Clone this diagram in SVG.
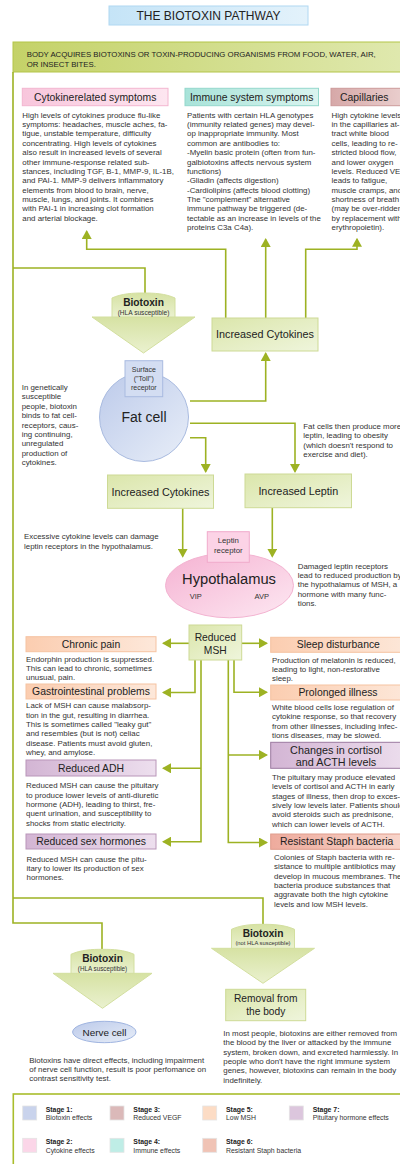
<svg xmlns="http://www.w3.org/2000/svg" width="400" height="1164" viewBox="0 0 400 1164">
<style>
text{font-family:"Liberation Sans",Arial,sans-serif;fill:#333}
.b{font-size:7.9px}
.h{font-size:10.4px;fill:#222;text-anchor:middle}
.c{text-anchor:middle}
.conn{stroke:#9db223;stroke-width:1.6;fill:none}
.arr{marker-end:url(#ah)}
.gbox{fill:url(#gGreen);stroke:#cdda95;stroke-width:1}
.pink{fill:url(#gPink);stroke:#f3b6d0;stroke-width:1}
.teal{fill:url(#gTeal);stroke:#94d8cc;stroke-width:1}
.rose{fill:url(#gRose);stroke:#cc9a9a;stroke-width:1}
.peach{fill:url(#gPeach);stroke:#f5c3a2;stroke-width:1}
.purp{fill:url(#gPurp);stroke:#b996b9;stroke-width:1}
.salm{fill:url(#gSalm);stroke:#e09d8d;stroke-width:1}
.btx{fill:url(#gBtx);stroke:#d3df9f;stroke-width:1}
.sw{stroke:#e4e4e4;stroke-width:0.8}
.st{font-size:6.9px;font-weight:bold;fill:#222}
.sd{font-size:6.9px;fill:#333}
</style>
<defs>
<marker id="ah" viewBox="0 0 9 10" refX="7.5" refY="5" markerWidth="9" markerHeight="10" markerUnits="userSpaceOnUse" orient="auto">
<path d="M0,0 L9,5 L0,10 Z" fill="#9db223"/>
</marker>
<linearGradient id="gGreen" x1="0" y1="0" x2="1" y2="1"><stop offset="0" stop-color="#dbe6ab"/><stop offset="1" stop-color="#eff5dc"/></linearGradient>
<linearGradient id="gBtx" x1="0" y1="0" x2="0" y2="1"><stop offset="0" stop-color="#d6e2a3"/><stop offset="1" stop-color="#eaf1cf"/></linearGradient>
<linearGradient id="gBanner" x1="0" y1="0" x2="1" y2="0"><stop offset="0" stop-color="#c4d268"/><stop offset="1" stop-color="#e0e9b0"/></linearGradient>
<linearGradient id="gTitle" x1="0" y1="0" x2="1" y2="0"><stop offset="0" stop-color="#c5e4f7"/><stop offset="1" stop-color="#e3f2fb"/></linearGradient>
<linearGradient id="gPink" x1="0" y1="0" x2="1" y2="0"><stop offset="0" stop-color="#f8c6dc"/><stop offset="1" stop-color="#fde6f0"/></linearGradient>
<linearGradient id="gTeal" x1="0" y1="0" x2="1" y2="0"><stop offset="0" stop-color="#a8e3d9"/><stop offset="1" stop-color="#daf4ef"/></linearGradient>
<linearGradient id="gRose" x1="0" y1="0" x2="1" y2="0"><stop offset="0" stop-color="#d6a8a8"/><stop offset="1" stop-color="#ecd3d2"/></linearGradient>
<linearGradient id="gPeach" x1="0" y1="0" x2="1" y2="0"><stop offset="0" stop-color="#fbcdb0"/><stop offset="1" stop-color="#fde8da"/></linearGradient>
<linearGradient id="gPurp" x1="0" y1="0" x2="1" y2="0"><stop offset="0" stop-color="#d3b5d4"/><stop offset="1" stop-color="#eddfee"/></linearGradient>
<linearGradient id="gSalm" x1="0" y1="0" x2="1" y2="0"><stop offset="0" stop-color="#eeab9d"/><stop offset="1" stop-color="#f9d8ce"/></linearGradient>
<linearGradient id="gBlue" x1="0" y1="0" x2="1" y2="1"><stop offset="0" stop-color="#bccaea"/><stop offset="1" stop-color="#e8eef8"/></linearGradient>
<linearGradient id="gHypo" x1="0" y1="0" x2="1" y2="1"><stop offset="0" stop-color="#f5b2d2"/><stop offset="1" stop-color="#fde8f2"/></linearGradient>
</defs>

<rect width="400" height="1164" fill="#fff"/>

<g id="title">
<rect x="109" y="6" width="199" height="19" fill="url(#gTitle)" stroke="#b0d8f2" stroke-width="1"/>
<text x="208.5" y="19.6" class="c" style="font-size:12px;fill:#222">THE BIOTOXIN PATHWAY</text>
</g>

<g id="banner">
<rect x="13" y="42" width="400" height="30" fill="url(#gBanner)" stroke="#b4c548" stroke-width="1"/>
<text class="b" x="26.7" y="57.3" style="font-size:7.8px;fill:#222">BODY ACQUIRES BIOTOXINS OR TOXIN-PRODUCING ORGANISMS FROM FOOD, WATER, AIR,</text>
<text class="b" x="26.7" y="67.3" style="font-size:7.8px;fill:#222">OR INSECT BITES.</text>
</g>

<g id="connectors">
<path class="conn" d="M13,72 V923 H102 V949"/>
<path class="conn" d="M13,268 H145 V293"/>
<path class="conn" d="M13,898 H263 V924"/>
<path class="conn arr" d="M225.7,318 V249.3 H86.7 V231.5"/>
<path class="conn arr" d="M265.7,318 V239.5"/>
<path class="conn arr" d="M305.7,318 V249.3 H357 V239.3"/>
<path class="conn arr" d="M190,401 H265.7 V353.5"/>
<path class="conn arr" d="M190,423.3 H295 V471.5"/>
<path class="conn arr" d="M190,437.7 H205.7 V471.5"/>
<path class="conn arr" d="M182.7,508.3 V556.2"/>
<path class="conn arr" d="M272.3,507.7 V556.2"/>
<path class="conn arr" d="M189,643.3 H163.5"/>
<path class="conn arr" d="M241.7,643.3 H266.5"/>
<path class="conn arr" d="M195,660 V692.5 H163.5"/>
<path class="conn arr" d="M201,660 V841.7 H163.5"/>
<path class="conn arr" d="M201,768.3 H163.5"/>
<path class="conn arr" d="M228.3,660 V842.5 H266.5"/>
<path class="conn arr" d="M228.3,755 H266.5"/>
<path class="conn arr" d="M234,660 V692.3 H266.5"/>
</g>

<g id="cytokine-symptoms">
<rect x="22.3" y="88.3" width="145.7" height="17.4" class="pink"/>
<text class="h" x="95.2" y="100.6">Cytokinerelated symptoms</text>
<text class="b"><tspan x="22.3" y="117.7">High levels of cytokines produce flu-like</tspan><tspan x="22.3" dy="9.36">symptoms: headaches, muscle aches, fa-</tspan><tspan x="22.3" dy="9.36">tigue, unstable temperature, difficulty</tspan><tspan x="22.3" dy="9.36">concentrating. High levels of cytokines</tspan><tspan x="22.3" dy="9.36">also result in increased levels of several</tspan><tspan x="22.3" dy="9.36">other immune-response related sub-</tspan><tspan x="22.3" dy="9.36">stances, including TGF, B-1, MMP-9, IL-1B,</tspan><tspan x="22.3" dy="9.36">and PAI-1. MMP-9 delivers inflammatory</tspan><tspan x="22.3" dy="9.36">elements from blood to brain, nerve,</tspan><tspan x="22.3" dy="9.36">muscle, lungs, and joints. It combines</tspan><tspan x="22.3" dy="9.36">with PAI-1 in increasing clot formation</tspan><tspan x="22.3" dy="9.36">and  arterial blockage.</tspan></text>
</g>

<g id="immune-symptoms">
<rect x="185" y="88.3" width="133.5" height="17.4" class="teal"/>
<text class="h" x="251.7" y="100.6">Immune system symptoms</text>
<text class="b"><tspan x="187" y="117.7">Patients with certain HLA genotypes</tspan><tspan x="187" dy="9.36">(immunity related genes) may devel-</tspan><tspan x="187" dy="9.36">op inappropriate immunity. Most</tspan><tspan x="187" dy="9.36">common are antibodies to:</tspan><tspan x="187" dy="9.36">-Myelin basic protein (often from fun-</tspan><tspan x="187" dy="9.36">galbiotoxins affects nervous system</tspan><tspan x="187" dy="9.36">functions)</tspan><tspan x="187" dy="9.36">-Gliadin (affects digestion)</tspan><tspan x="187" dy="9.36">-Cardiolipins (affects blood clotting)</tspan><tspan x="187" dy="9.36">The "complement" alternative</tspan><tspan x="187" dy="9.36">immune pathway be triggered (de-</tspan><tspan x="187" dy="9.36">tectable as an increase in levels of the</tspan><tspan x="187" dy="9.36">proteins C3a C4a).</tspan></text>
</g>

<g id="capillaries">
<rect x="331" y="88.3" width="80" height="17.4" class="rose"/>
<text class="h" x="364.3" y="100.6">Capillaries</text>
<text class="b"><tspan x="331.5" y="117.7">High cytokine levels</tspan><tspan x="331.5" dy="9.36">in the capillaries at-</tspan><tspan x="331.5" dy="9.36">tract white blood</tspan><tspan x="331.5" dy="9.36">cells, leading to re-</tspan><tspan x="331.5" dy="9.36">stricted blood flow,</tspan><tspan x="331.5" dy="9.36">and lower oxygen</tspan><tspan x="331.5" dy="9.36">levels. Reduced VEGF</tspan><tspan x="331.5" dy="9.36">leads to fatigue,</tspan><tspan x="331.5" dy="9.36">muscle cramps, and</tspan><tspan x="331.5" dy="9.36">shortness of breath</tspan><tspan x="331.5" dy="9.36">(may be over-ridden</tspan><tspan x="331.5" dy="9.36">by replacement with</tspan><tspan x="331.5" dy="9.36">erythropoietin).</tspan></text>
</g>

<g id="biotoxin-1">
<path class="btx" d="M-20,24 H83 L31.5,60 Z" transform="translate(112,293)"/>
<path class="btx" d="M0,24 V5 C10,0.5 21,0 31.5,0 C42,0 53,0.5 63,5 V24 Z" transform="translate(112,293)"/>
<text class="c" x="143.5" y="306" style="font-size:10.2px;font-weight:bold;fill:#222">Biotoxin</text>
<text class="c" x="143.5" y="315" style="font-size:6.6px">(HLA susceptible)</text>
</g>

<g id="increased-cytokines-1">
<rect x="212" y="318" width="106" height="33" class="gbox"/>
<text class="h" x="265" y="338" style="font-size:10.8px">Increased Cytokines</text>
</g>

<g id="fat-cell">
<circle cx="144" cy="417" r="44.5" fill="url(#gBlue)" stroke="#a9bbe0" stroke-width="1"/>
<rect x="125" y="360.7" width="37.7" height="36" fill="#d3ddf2" stroke="#a9bbe0" stroke-width="1"/>
<text class="c" x="143.8" y="371.6" style="font-size:7px">Surface</text>
<text class="c" x="143.8" y="380.6" style="font-size:7px">("Toll")</text>
<text class="c" x="143.8" y="389.6" style="font-size:7px">receptor</text>
<text class="c" x="144" y="421.8" style="font-size:14px;fill:#222">Fat cell</text>
</g>

<g id="fat-cell-notes">
<text class="b"><tspan x="21.7" y="390">In genetically</tspan><tspan x="21.7" dy="9.4">susceptible</tspan><tspan x="21.7" dy="9.4">people, biotoxin</tspan><tspan x="21.7" dy="9.4">binds to fat cell-</tspan><tspan x="21.7" dy="9.4">receptors, caus-</tspan><tspan x="21.7" dy="9.4">ing continuing,</tspan><tspan x="21.7" dy="9.4">unregulated</tspan><tspan x="21.7" dy="9.4">production of</tspan><tspan x="21.7" dy="9.4">cytokines.</tspan></text>
<text class="b"><tspan x="303.3" y="428.7">Fat cells then produce more</tspan><tspan x="303.3" dy="9.4">leptin, leading to obesity</tspan><tspan x="303.3" dy="9.4">(which doesn't respond to</tspan><tspan x="303.3" dy="9.4">exercise and diet).</tspan></text>
</g>

<g id="increased-cytokines-2">
<rect x="107.5" y="475" width="106" height="33.3" class="gbox"/>
<text class="h" x="160.4" y="495.6" style="font-size:10.8px">Increased Cytokines</text>
</g>

<g id="increased-leptin">
<rect x="245" y="474" width="106.5" height="33.7" class="gbox"/>
<text class="h" x="298.3" y="495" style="font-size:10.8px">Increased Leptin</text>
</g>

<g id="cytokine-note">
<text class="b"><tspan x="24" y="539.4">Excessive cytokine levels can damage</tspan><tspan x="24" dy="9.36">leptin receptors in the hypothalamus.</tspan></text>
</g>

<g id="hypothalamus">
<ellipse cx="229.5" cy="585.5" rx="64" ry="32.3" fill="url(#gHypo)" stroke="#f3b3d1" stroke-width="1"/>
<rect x="207.3" y="531.7" width="42" height="30.6" fill="#fcd3e6" stroke="#f1aacb" stroke-width="1"/>
<text class="c" x="228.3" y="542.8" style="font-size:7.8px">Leptin</text>
<text class="c" x="228.3" y="553.2" style="font-size:7.8px">receptor</text>
<text class="c" x="229" y="583.8" style="font-size:14.7px;fill:#222">Hypothalamus</text>
<text class="c" x="195.7" y="598.6" style="font-size:7.5px">VIP</text>
<text class="c" x="261.7" y="598.6" style="font-size:7.5px">AVP</text>
</g>

<g id="hypothalamus-note">
<text class="b"><tspan x="297.7" y="568.7">Damaged leptin receptors</tspan><tspan x="297.7" dy="9.3">lead to reduced production by</tspan><tspan x="297.7" dy="9.3">the hypothalamus of MSH, a</tspan><tspan x="297.7" dy="9.3">hormone with many func-</tspan><tspan x="297.7" dy="9.3">tions.</tspan></text>
</g>

<g id="reduced-msh">
<rect x="189" y="625" width="52.7" height="35" class="gbox"/>
<text class="h" x="215.3" y="641.3" style="font-size:10.3px">Reduced</text>
<text class="h" x="215.3" y="653.8" style="font-size:10.3px">MSH</text>
</g>

<g id="chronic-pain">
<rect x="26" y="636.7" width="130" height="15" class="peach"/>
<text class="h" x="91" y="647.8">Chronic pain</text>
<text class="b"><tspan x="26" y="661.7">Endorphin production is suppressed.</tspan><tspan x="26" dy="9.33">This can lead to chronic, sometimes</tspan><tspan x="26" dy="9.33">unusual, pain.</tspan></text>
</g>

<g id="gastrointestinal">
<rect x="26" y="684" width="130" height="15" class="peach"/>
<text class="h" x="91" y="695.2">Gastrointestinal problems</text>
<text class="b"><tspan x="26" y="708.4">Lack of MSH can cause malabsorp-</tspan><tspan x="26" dy="9.33">tion in the gut, resulting in diarrhea.</tspan><tspan x="26" dy="9.33">This is sometimes called "leaky gut"</tspan><tspan x="26" dy="9.33">and resembles (but is not) celiac</tspan><tspan x="26" dy="9.33">disease. Patients must avoid gluten,</tspan><tspan x="26" dy="9.33">whey, and amylose.</tspan></text>
</g>

<g id="reduced-adh">
<rect x="26" y="760" width="130" height="16" class="purp"/>
<text class="h" x="91" y="771.8">Reduced ADH</text>
<text class="b"><tspan x="26" y="788.4">Reduced MSH can cause the pituitary</tspan><tspan x="26" dy="9.3">to produce lower levels of anti-diuretic</tspan><tspan x="26" dy="9.3">hormone (ADH), leading to thirst, fre-</tspan><tspan x="26" dy="9.3">quent urination, and susceptibility to</tspan><tspan x="26" dy="9.3">shocks from static electricity.</tspan></text>
</g>

<g id="reduced-sex-hormones">
<rect x="26" y="834" width="130" height="15" class="purp"/>
<text class="h" x="91" y="845.4">Reduced sex hormones</text>
<text class="b"><tspan x="26.5" y="861.7">Reduced MSH can cause the pitu-</tspan><tspan x="26.5" dy="9.33">itary to lower its production of sex</tspan><tspan x="26.5" dy="9.33">hormones.</tspan></text>
</g>

<g id="sleep-disturbance">
<rect x="270.7" y="637.3" width="140" height="15" class="peach"/>
<text class="h" x="338.3" y="648.4">Sleep disturbance</text>
<text class="b"><tspan x="272" y="662.7">Production of melatonin is reduced,</tspan><tspan x="272" dy="9.33">leading to light, non-restorative</tspan><tspan x="272" dy="9.33">sleep.</tspan></text>
</g>

<g id="prolonged-illness">
<rect x="270.7" y="685" width="140" height="15" class="peach"/>
<text class="h" x="338" y="695.8">Prolonged illness</text>
<text class="b"><tspan x="272" y="710">White blood cells lose regulation of</tspan><tspan x="272" dy="9.33">cytokine response, so that recovery</tspan><tspan x="272" dy="9.33">from other illnesses, including infec-</tspan><tspan x="272" dy="9.33">tions diseases, may be slowed.</tspan></text>
</g>

<g id="cortisol-acth">
<rect x="270.7" y="742.3" width="140" height="26" class="purp" style="stroke:#9c7aa0"/>
<text class="h" x="336" y="753.8" style="font-size:10.8px">Changes in cortisol</text>
<text class="h" x="336" y="766.1" style="font-size:10.8px">and ACTH levels</text>
<text class="b"><tspan x="272" y="780">The pituitary may produce elevated</tspan><tspan x="272" dy="9.33">levels of cortisol and ACTH in early</tspan><tspan x="272" dy="9.33">stages of illness, then drop to exces-</tspan><tspan x="272" dy="9.33">sively low levels later. Patients should</tspan><tspan x="272" dy="9.33">avoid steroids such as prednisone,</tspan><tspan x="272" dy="9.33">which can lower levels of ACTH.</tspan></text>
</g>

<g id="resistant-staph">
<rect x="270.7" y="834" width="140" height="15.3" class="salm"/>
<text class="h" x="336.7" y="845.4">Resistant Staph bacteria</text>
<text class="b"><tspan x="274" y="860">Colonies of Staph bacteria with re-</tspan><tspan x="274" dy="9.33">sistance to multiple antibiotics may</tspan><tspan x="274" dy="9.33">develop in mucous membranes. The</tspan><tspan x="274" dy="9.33">bacteria produce substances that</tspan><tspan x="274" dy="9.33">aggravate both the high cytokine</tspan><tspan x="274" dy="9.33">levels and low MSH levels.</tspan></text>
</g>

<g id="biotoxin-2">
<path class="btx" d="M-20,24 H83 L31.5,59 Z" transform="translate(231.5,924.3)"/>
<path class="btx" d="M0,24 V5 C10,0.5 21,0 31.5,0 C42,0 53,0.5 63,5 V24 Z" transform="translate(231.5,924.3)"/>
<text class="c" x="263" y="936.5" style="font-size:10.2px;font-weight:bold;fill:#222">Biotoxin</text>
<text class="c" x="263" y="944.6" style="font-size:5.8px">(not HLA susceptible)</text>
</g>

<g id="biotoxin-3">
<path class="btx" d="M-18,24 H81 L31.5,59 Z" transform="translate(71,949.3)"/>
<path class="btx" d="M0,24 V5 C10,0.5 21,0 31.5,0 C42,0 53,0.5 63,5 V24 Z" transform="translate(71,949.3)"/>
<text class="c" x="102.5" y="962" style="font-size:10.2px;font-weight:bold;fill:#222">Biotoxin</text>
<text class="c" x="102.5" y="970.6" style="font-size:6.3px">(HLA susceptible)</text>
</g>

<g id="nerve-cell">
<ellipse cx="104.3" cy="1032" rx="31.7" ry="10.7" fill="url(#gBlue)" stroke="#9fb4e0" stroke-width="1"/>
<text class="c" x="104.5" y="1035.8" style="font-size:9.9px;fill:#222">Nerve cell</text>
<text class="b"><tspan x="29.3" y="1062.7">Biotoxins have direct effects, including impairment</tspan><tspan x="29.3" dy="9.33">of nerve cell function, result is poor perfomance on</tspan><tspan x="29.3" dy="9.33">contrast sensitivity test.</tspan></text>
</g>

<g id="removal">
<rect x="225.7" y="989.3" width="80" height="31.4" class="gbox"/>
<text class="h" x="265.7" y="1002.2" style="font-size:10.2px">Removal from</text>
<text class="h" x="265.7" y="1014.6" style="font-size:10.2px">the body</text>
<text class="b"><tspan x="223.3" y="1036">In most people, biotoxins are either removed from</tspan><tspan x="223.3" dy="9.33">the blood by the liver or attacked by the immune</tspan><tspan x="223.3" dy="9.33">system, broken down, and excreted harmlessly. In</tspan><tspan x="223.3" dy="9.33">people who don't have the right immune system</tspan><tspan x="223.3" dy="9.33">genes, however, biotoxins can remain in the  body</tspan><tspan x="223.3" dy="9.33">indefinitely.</tspan></text>
</g>

<g id="legend">
<rect x="13.3" y="1094" width="400" height="80" fill="#fff" stroke="#a9bd2c" stroke-width="1.6"/>
<rect x="22.7" y="1106" width="14" height="14" fill="#c9d3ec" class="sw"/>
<text class="st" x="45.7" y="1111.8">Stage 1:</text><text class="sd" x="45.7" y="1120">Biotoxin effects</text>
<rect x="110" y="1106" width="14" height="14" fill="#dbb9b9" class="sw"/>
<text class="st" x="133.3" y="1111.8">Stage 3:</text><text class="sd" x="133.3" y="1120">Reduced VEGF</text>
<rect x="202.7" y="1106" width="14" height="14" fill="#fcdcc5" class="sw"/>
<text class="st" x="226" y="1111.8">Stage 5:</text><text class="sd" x="226" y="1120">Low MSH</text>
<rect x="289.3" y="1106" width="14" height="14" fill="#dcc6dd" class="sw"/>
<text class="st" x="312.7" y="1111.8">Stage 7:</text><text class="sd" x="312.7" y="1120">Pituitary hormone effects</text>
<rect x="22.7" y="1138.3" width="14" height="14" fill="#fbd6e8" class="sw"/>
<text class="st" x="45.7" y="1144.2">Stage 2:</text><text class="sd" x="45.7" y="1152.5">Cytokine effects</text>
<rect x="110" y="1138.3" width="14" height="14" fill="#bfede6" class="sw"/>
<text class="st" x="133.3" y="1144.2">Stage 4:</text><text class="sd" x="133.3" y="1152.5">Immune effects</text>
<rect x="202.7" y="1138.3" width="14" height="14" fill="#f0c3b5" class="sw"/>
<text class="st" x="226" y="1144.2">Stage 6:</text><text class="sd" x="226" y="1152.5">Resistant Staph bacteria</text>
</g>
</svg>
